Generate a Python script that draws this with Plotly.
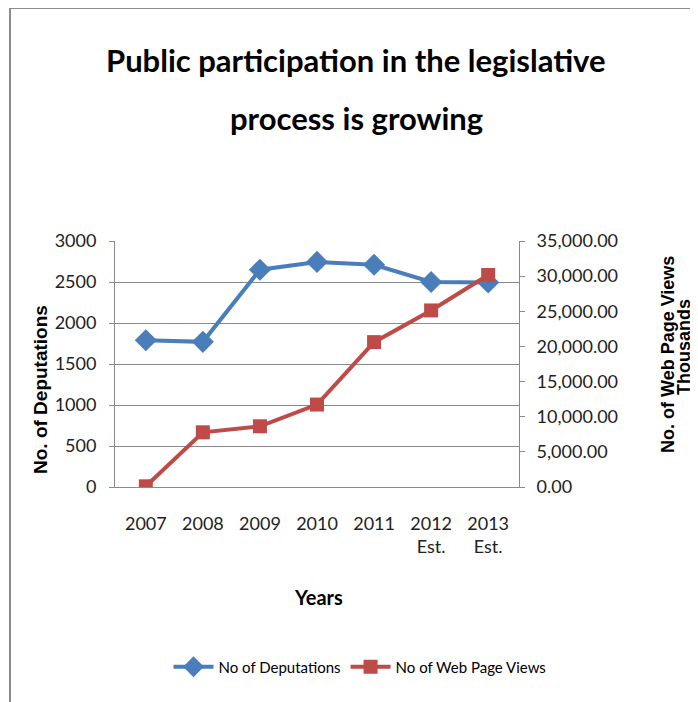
import plotly.graph_objects as go

years = ["2007", "2008", "2009", "2010", "2011", "2012<br>Est.", "2013<br>Est."]
deputations = [1790, 1770, 2650, 2745, 2710, 2500, 2495]
web_views = [100, 7780, 8640, 11730, 20610, 25120, 30160]

OFF = 8  # page body margin
W, H = 698 - OFF, 702 - OFF
L, R, T, B = 115 - OFF, 519 - OFF, 241 - OFF, 487 - OFF

def px(x):
    return (x - OFF - L) / (R - L)

def py(y):
    return (B - (y - OFF)) / (B - T)

sans = "Lato"
grid = "#8a8a8a"

fig = go.Figure()
fig.add_trace(go.Scatter(
    x=years, y=deputations, name="No of Deputations", mode="lines+markers",
    line=dict(color="#4A7EBB", width=4),
    marker=dict(symbol="diamond", size=17, color="#4A7EBB"),
    yaxis="y",
))
fig.add_trace(go.Scatter(
    x=years, y=web_views, name="No of Web Page Views", mode="lines+markers",
    line=dict(color="#BE4B48", width=4),
    marker=dict(symbol="square", size=14, color="#BE4B48"),
    yaxis="y2",
))

def ann(text, x, y, size, family=sans, angle=0):
    return dict(text=text, x=px(x), y=py(y), xref="paper", yref="paper", showarrow=False,
                textangle=angle, font=dict(family=family, size=size, color="#000", weight="bold"),
                xanchor="center", yanchor="middle")

fig.update_layout(
    width=W, height=H,
    margin=dict(l=L, r=W - R, t=T, b=H - B, pad=0, autoexpand=False),
    paper_bgcolor="white", plot_bgcolor="white",
    showlegend=True,
    legend=dict(orientation="h", x=px(360), xanchor="center", y=py(667), yanchor="middle",
                font=dict(family=sans, size=15, color="#000"), itemwidth=40),
    xaxis=dict(type="category", showgrid=False, showline=True, linecolor=grid, linewidth=1,
               ticks="", tickfont=dict(family=sans, size=18, color="#222"),
               ticklabelstandoff=20, zeroline=False),
    yaxis=dict(range=[0, 3000], dtick=500, showgrid=True, gridcolor=grid, gridwidth=1,
               showline=True, linecolor=grid, ticks="outside", ticklen=5, tickcolor=grid,
               tickfont=dict(family=sans, size=18, color="#222"), ticklabelstandoff=9,
               zeroline=False),
    yaxis2=dict(range=[0, 35000], dtick=5000, overlaying="y", side="right", showgrid=False,
                showline=True, linecolor=grid, ticks="outside", ticklen=5, tickcolor=grid,
                tickformat=",.2f", tickfont=dict(family=sans, size=18, color="#222"),
                ticklabelstandoff=8, zeroline=False),
    annotations=[
        ann("Public participation in the legislative", 356, 60, 31),
        ann("process is growing", 356, 118, 31),
        ann("No. of Deputations", 40, 390, 19, "Liberation Sans", -90),
        ann("No. of Web Page Views", 668, 355, 18, "Liberation Sans", -90),
        ann("Thousands", 684, 347, 18, "Liberation Sans", -90),
        ann("Years", 318, 597, 20),
    ],
    shapes=[
        dict(type="line", xref="paper", yref="paper", x0=px(10), x1=px(720), y0=py(8), y1=py(8),
             line=dict(color="#8c8c8c", width=2)),
        dict(type="line", xref="paper", yref="paper", x0=px(10), x1=px(10), y0=py(8), y1=py(720),
             line=dict(color="#8c8c8c", width=2)),
    ],
)

fig.write_html("out.html")
